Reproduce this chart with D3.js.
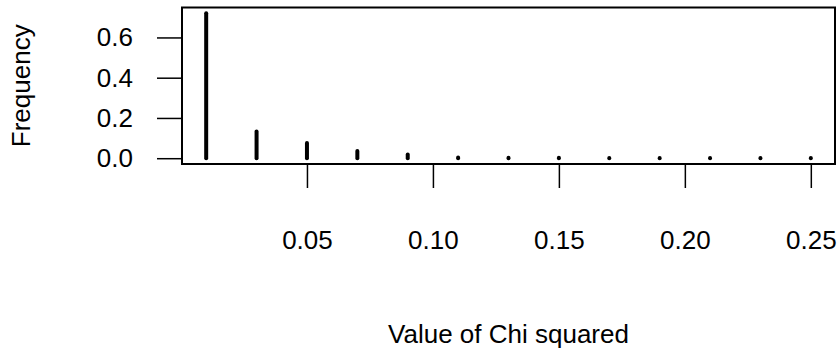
<!doctype html>
<html lang="en">
    <head>
        <meta charset="utf-8">
        <title>Chi squared frequency</title>
        <script src="https://cdn.jsdelivr.net/npm/d3@7"></script>
        <style>
            body { margin: 0; background: #fff; }
            text { font-family: "Liberation Sans", Arial, sans-serif; fill: #000; }
        </style>
    </head>
    <body>
        <div id="chart"></div>
        <script>

            // values
            var chiValues = [0.01, 0.03, 0.05, 0.07, 0.09, 0.11, 0.13, 0.15, 0.17, 0.19, 0.21, 0.23, 0.25];
            var frequencies = [0.72, 0.133, 0.075, 0.036, 0.019, 0.003, 0.002, 0.002, 0.001, 0.001, 0.001, 0.001, 0.001];
            var xTicks = [0.05, 0.10, 0.15, 0.20, 0.25];
            var yTicks = [0.0, 0.2, 0.4, 0.6];

            var width = 837, height = 350;
            var box = {left: 182, right: 835, top: 7.5, bottom: 164};
            var fontSize = "26px";

            var svg = d3.select("#chart").append("svg")
                .attr("width", width)
                .attr("height", height);

            // R style 4% padding on the data range
            var xMin = d3.min(chiValues), xMax = d3.max(chiValues);
            var xPad = (xMax - xMin) * 0.04;
            var x = d3.scaleLinear()
                .domain([xMin - xPad, xMax + xPad])
                .range([box.left, box.right]);

            var yMax = d3.max(frequencies);
            var yPad = yMax * 0.04;
            var y = d3.scaleLinear()
                .domain([0 - yPad, yMax + yPad])
                .range([box.bottom, box.top]);

            // spikes (type = "h")
            svg.append("g").selectAll("line")
                .data(chiValues)
                .enter().append("line")
                .attr("x1", function(d) { return x(d); })
                .attr("x2", function(d) { return x(d); })
                .attr("y1", y(0))
                .attr("y2", function(d, i) { return y(frequencies[i]); })
                .attr("stroke", "#000")
                .attr("stroke-width", 4)
                .attr("stroke-linecap", "round");

            // x axis, long ticks and labels far below
            var xAxis = d3.axisBottom(x)
                .tickValues(xTicks)
                .tickSize(24)
                .tickPadding(43)
                .tickFormat(d3.format(".2f"));

            var gx = svg.append("g")
                .attr("transform", "translate(0," + box.bottom + ")")
                .call(xAxis);
            gx.select(".domain").remove();
            gx.selectAll("line").attr("stroke", "#000").attr("stroke-width", 1.5);
            gx.selectAll("text").attr("font-size", fontSize).attr("fill", "#000");

            var yAxis = d3.axisLeft(y)
                .tickValues(yTicks)
                .tickSize(25)
                .tickPadding(24)
                .tickFormat(d3.format(".1f"));

            var gy = svg.append("g")
                .attr("transform", "translate(" + box.left + ",0)")
                .call(yAxis);
            gy.select(".domain").remove();
            gy.selectAll("line").attr("stroke", "#000").attr("stroke-width", 1.5);
            gy.selectAll("text").attr("font-size", fontSize).attr("fill", "#000");

            // plot box
            svg.append("rect")
                .attr("x", box.left)
                .attr("y", box.top)
                .attr("width", box.right - box.left)
                .attr("height", box.bottom - box.top)
                .attr("fill", "none")
                .attr("stroke", "#000")
                .attr("stroke-width", 2);

            // axis titles
            svg.append("text")
                .attr("x", (box.left + box.right) / 2)
                .attr("y", 343)
                .attr("text-anchor", "middle")
                .attr("font-size", fontSize)
                .text("Value of Chi squared");

            svg.append("text")
                .attr("transform", "translate(30," + ((box.top + box.bottom) / 2) + ") rotate(-90)")
                .attr("text-anchor", "middle")
                .attr("font-size", fontSize)
                .text("Frequency");

        </script>
    </body>
</html>
